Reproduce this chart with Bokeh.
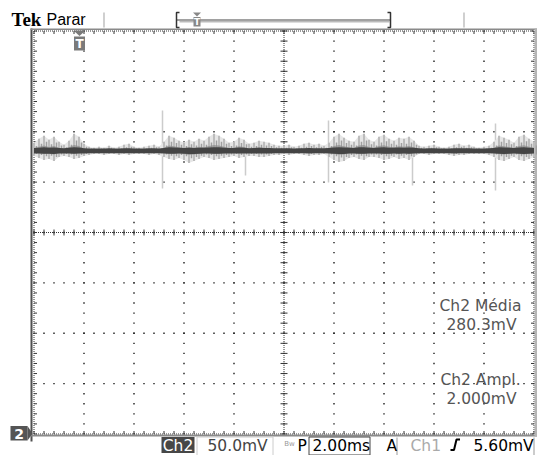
import numpy as np
from bokeh.plotting import figure
from bokeh.models import Range1d, Label
from bokeh.embed import file_html
from bokeh.resources import INLINE

T_PER_DIV = 2.0      # ms/div
V_PER_DIV = 50.0     # mV/div (Ch2), ground at bottom of screen
N_XDIV, N_YDIV = 10, 8
SAMPLE_DT = 0.2      # ms between envelope samples
BASELINE = 281.0     # mV, level of the trace

# envelope of the noise above / below the baseline (mV), one value per 0.2 ms
env_up = [8, 12, 15, 11, 14, 9, 6, 10, 17, 14,
          7, 4, 3, 4, 3, 5, 3, 4, 6, 7,
          4, 3, 4, 5, 6, 4, 9, 15, 13, 10,
          8, 11, 9, 12, 10, 14, 17, 15, 12, 8,
          9, 13, 11, 7, 8, 10, 9, 8, 6, 5,
          5, 6, 4, 5, 7, 8, 6, 7, 5, 8,
          14, 17, 13, 10, 9, 15, 17, 11, 9, 14,
          16, 12, 10, 13, 12, 14, 10, 5, 4, 5,
          6, 4, 3, 4, 6, 7, 5, 6, 4, 3,
          4, 5, 9, 15, 13, 11, 8, 14, 16, 12, 9]
env_dn = [5, 7, 9, 8, 10, 6, 5, 6, 8, 7,
          5, 4, 3, 3, 4, 3, 3, 4, 3, 4,
          3, 3, 3, 4, 3, 4, 6, 8, 9, 7,
          9, 12, 10, 8, 6, 7, 9, 8, 7, 6,
          5, 7, 6, 5, 5, 6, 6, 5, 4, 4,
          3, 4, 3, 3, 4, 5, 4, 4, 3, 6,
          9, 11, 10, 7, 6, 8, 9, 6, 6, 7,
          9, 8, 6, 8, 7, 9, 6, 3, 3, 4,
          3, 3, 3, 4, 5, 4, 4, 3, 3, 3,
          3, 4, 6, 9, 10, 8, 6, 9, 10, 8, 6]

# isolated glitches (ms, low mV, high mV)
spike_t = [5.14, 8.46, 11.78, 15.14, 18.46]
spike_lo = [243.7, 256.6, 249.6, 246.6, 241.7]
spike_hi = [321.1, 281.0, 311.2, 281.0, 308.2]

meas_labels = ["Ch2 Média", "Ch2 Ampl."]
meas_values = ["280.3mV", "2.000mV"]

# ---------------- geometry ----------------
W, H = 537, 455
GL, GR, GT, GB = 33.5, 533.5, 30.5, 433.5   # graticule edges in page pixels
T_MAX = N_XDIV * T_PER_DIV
V_MAX = N_YDIV * V_PER_DIV
SX = (GR - GL) / T_MAX
SY = (GB - GT) / V_MAX


def X(px):
    return (px - GL) / SX


def Y(py):
    return (GB - py) / SY


p = figure(width=W, height=H, x_range=Range1d(X(0), X(W)), y_range=Range1d(Y(H), Y(0)),
           min_border=0, x_axis_type=None, y_axis_type=None, toolbar_location=None,
           output_backend="svg", outline_line_color=None, title=None,
           background_fill_color="white", border_fill_color="white")

# ---------------- graticule ----------------
minor_t = np.linspace(0, T_MAX, N_XDIV * 5 + 1)
minor_v = np.linspace(0, V_MAX, N_YDIV * 5 + 1)
major_t = np.linspace(0, T_MAX, N_XDIV + 1)[1:-1]
major_v = np.linspace(0, V_MAX, N_YDIV + 1)[1:-1]
gx = np.concatenate([np.repeat(major_t, len(minor_v)), np.tile(minor_t, len(major_v))])
gy = np.concatenate([np.tile(minor_v, len(major_t)), np.repeat(major_v, len(minor_t))])
p.rect(gx, gy, width=1.4, height=1.4, width_units="screen", height_units="screen",
       fill_color="#1a1a1a", line_color=None)

dot = dict(line_color="#333333", line_width=1, line_dash="1 1")
# edges (fine dotted)
p.segment(x0=[X(GL), X(GL), X(GL), X(GR)], y0=[Y(GT), Y(GB), Y(GT), Y(GT)],
          x1=[X(GR), X(GR), X(GL), X(GR)], y1=[Y(GT), Y(GB), Y(GB), Y(GB)], **dot)
# center cross (fine dotted)
p.segment(x0=[0, T_MAX / 2], y0=[V_MAX / 2, 0], x1=[T_MAX, T_MAX / 2], y1=[V_MAX / 2, V_MAX], **dot)

tick = dict(line_color="#333333", line_width=1)
# edge ticks
p.segment(x0=minor_t, y0=Y(GT), x1=minor_t, y1=Y(GT + 3), **tick)
p.segment(x0=minor_t, y0=Y(GB), x1=minor_t, y1=Y(GB - 3), **tick)
p.segment(x0=X(GL), y0=minor_v, x1=X(GL + 3), y1=minor_v, **tick)
p.segment(x0=X(GR), y0=minor_v, x1=X(GR - 3), y1=minor_v, **tick)
# center ticks
cx_px = GL + (GR - GL) / 2
cy_px = GT + (GB - GT) / 2
p.segment(x0=minor_t, y0=Y(cy_px - 3), x1=minor_t, y1=Y(cy_px + 3), **tick)
p.segment(x0=X(cx_px - 3.5), y0=minor_v, x1=X(cx_px + 3.5), y1=minor_v, **tick)

# screen frame borders
p.quad(left=X(30), right=X(32), top=Y(28), bottom=Y(441), fill_color="#505050", line_color=None)
p.quad(left=X(30), right=X(537), top=Y(28), bottom=Y(29.5), fill_color="#8a8a8a", line_color=None)
p.quad(left=X(30), right=X(537), top=Y(434), bottom=Y(436), fill_color="#8a8a8a", line_color=None)
p.quad(left=X(534), right=X(537), top=Y(28), bottom=Y(436), fill_color="#b4b4b4", line_color=None)

# ---------------- trace ----------------
t = np.arange(len(env_up)) * SAMPLE_DT
up = np.array(env_up, dtype=float)
dn = np.array(env_dn, dtype=float)
p.segment(x0=spike_t, y0=spike_lo, x1=spike_t, y1=spike_hi, line_color="#cccccc", line_width=1.5)
# faint persistence haze
p.varea(x=t, y1=BASELINE - dn, y2=BASELINE + up, fill_color="#e6e6e6")
# streaks of the noise
p.segment(x0=t, y0=BASELINE - dn, x1=t, y1=BASELINE + up, line_color="#bdbdbd", line_width=2)
p.segment(x0=t + SAMPLE_DT / 2, y0=BASELINE - 0.6 * dn, x1=t + SAMPLE_DT / 2, y1=BASELINE + 0.6 * up,
          line_color="#a0a0a0", line_width=1.5)
p.varea(x=t, y1=BASELINE - 0.35 * dn, y2=BASELINE + 0.35 * up, fill_color="#8a8a8a", fill_alpha=0.7)
# dense core of the trace
p.varea(x=t, y1=BASELINE - (2.0 + 0.1 * dn), y2=BASELINE + (2.0 + 0.1 * up), fill_color="#444444")


# ---------------- texts & markers ----------------
def lab(px, py, text, size="15.5px", color="black", align="left", font="DejaVu Sans",
        style="normal", baseline="middle"):
    p.add_layout(Label(x=px, y=H - py, x_units="screen", y_units="screen", text=text,
                       text_font=font, text_font_size=size, text_color=color,
                       text_align=align, text_baseline=baseline, text_font_style=style))


lab(11, 18.5, "Tek", size="19px", font="Liberation Serif", style="bold")
lab(46, 18.5, "Parar", size="16px", font="Liberation Sans")

# header separators and record bracket
p.segment(x0=[X(103.5), X(463.5)], y0=[Y(12), Y(12)], x1=[X(103.5), X(463.5)], y1=[Y(27), Y(27)],
          line_color="#b0b0b0", line_width=1.2)
p.segment(x0=X(176), y0=Y(19.5), x1=X(390), y1=Y(19.5), line_color="#444444", line_width=1.2)
p.segment(x0=X(179), y0=Y(21.2), x1=X(389), y1=Y(21.2), line_color="#bbbbbb", line_width=1.5)
p.multi_line(xs=[[X(179), X(176), X(176), X(179)], [X(387), X(390), X(390), X(387)]],
             ys=[[Y(12), Y(12), Y(27), Y(27)], [Y(12), Y(12), Y(27), Y(27)]],
             line_color="#333333", line_width=1.5)
p.patch(x=[X(192.5), X(200.5), X(196.5)], y=[Y(12), Y(12), Y(16)], fill_color="#888888", line_color=None)
p.quad(left=X(193), right=X(200), top=Y(16.5), bottom=Y(26), fill_color="#888888", line_color=None)
lab(196.5, 21.5, "T", size="9px", color="white", align="center", style="bold")

# trigger position marker
p.patch(x=[X(73), X(85), X(79)], y=[Y(30), Y(30), Y(35.5)], fill_color="#7a7a7a", line_color=None)
p.quad(left=X(73.5), right=X(84.5), top=Y(36), bottom=Y(50), fill_color="#7a7a7a", line_color=None)
lab(79, 43.5, "T", size="12px", color="white", align="center", style="bold")

# channel 2 ground marker
p.quad(left=X(10), right=X(27), top=Y(425.5), bottom=Y(440), fill_color="#555555", line_color=None)
p.patch(x=[X(27), X(27), X(32)], y=[Y(425.5), Y(440), Y(433)], fill_color="#555555", line_color=None)
lab(18.5, 433, "2", size="14px", color="white", align="center", style="bold")

# measurements
for i, (ml, mv) in enumerate(zip(meas_labels, meas_values)):
    y0 = 305 + i * 74
    lab(480, y0, ml, color="#555555", align="center")
    lab(481, y0 + 19, mv, color="#555555", align="center")

# status line
p.quad(left=X(161), right=X(194), top=Y(436.5), bottom=Y(452.5), fill_color="#474747", line_color=None)
lab(177.5, 445, "Ch2", color="white", align="center")
p.quad(left=X(196.5), right=X(272.5), top=Y(436.5), bottom=Y(455), fill_color=None,
       line_color="#cccccc", line_width=1)
lab(207, 445, "50.0mV", color="#444444")
lab(289, 443, "Bw", size="7px", color="#999999", align="center")
lab(297, 445, "P")
p.quad(left=X(308.5), right=X(369.5), top=Y(436.5), bottom=Y(454.5), fill_color=None,
       line_color="#444444", line_width=1)
lab(312, 445, "2.00ms")
lab(386, 445, "A")
p.segment(x0=[X(396.5), X(533.5)], y0=[Y(437), Y(437)], x1=[X(396.5), X(533.5)], y1=[Y(455), Y(455)],
          line_color="#999999", line_width=1)
lab(410, 445, "Ch1", color="#aaaaaa")
p.line(x=[X(450), X(453.5), X(456), X(459.5)], y=[Y(449.5), Y(449.5), Y(439), Y(439)],
       line_color="black", line_width=2)
lab(473, 445, "5.60mV")

open("out.html", "w").write(file_html(p, INLINE))
